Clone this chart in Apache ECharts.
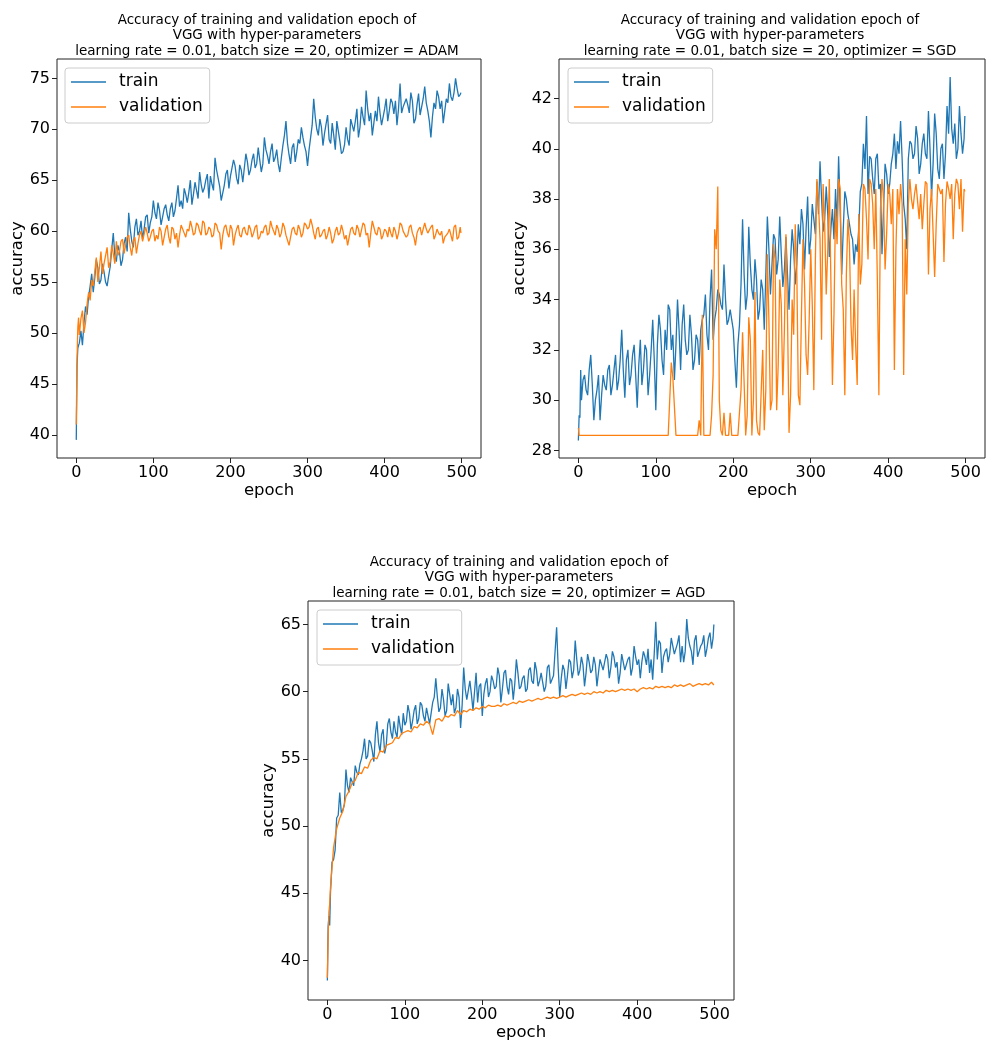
<!DOCTYPE html>
<html>
<head>
<meta charset="utf-8">
<script src="https://cdn.jsdelivr.net/npm/echarts@6/dist/echarts.min.js"></script>
<style>
html,body{margin:0;padding:0;background:#fff;}
#chart{width:987px;height:1042px;}
</style>
</head>
<body>
<div id="chart"></div>
<script>
// ---------- epochs ----------
// dense sampling: 0,1,2,3 then every 2nd epoch, then 499
const epochsDense = [0, 1, 2, 3];
for (let e = 4; e <= 498; e += 2) epochsDense.push(e);
epochsDense.push(499);
// coarse sampling for the smooth AGD validation curve: 0,1,2,3 then every 4th epoch, then 499
const epochsCoarse = [0, 1, 2, 3];
for (let e = 4; e <= 496; e += 4) epochsCoarse.push(e);
epochsCoarse.push(499);

const xTicks = [0, 100, 200, 300, 400, 500];
const adamYTicks = [40, 45, 50, 55, 60, 65, 70, 75];
const sgdYTicks = [28, 30, 32, 34, 36, 38, 40, 42];
const agdYTicks = [40, 45, 50, 55, 60, 65];

const titles = [
  'Accuracy of training and validation epoch of\nVGG with hyper-parameters\nlearning rate = 0.01, batch size = 20, optimizer = ADAM',
  'Accuracy of training and validation epoch of\nVGG with hyper-parameters\nlearning rate = 0.01, batch size = 20, optimizer = SGD',
  'Accuracy of training and validation epoch of\nVGG with hyper-parameters\nlearning rate = 0.01, batch size = 20, optimizer = AGD'
];
const seriesNames = ['train', 'validation'];

// ---------- ADAM ----------
const adamTrain = [
  39.5, 46.8, 48.5, 48.8,
  49.0, 50.2, 48.8, 51.0, 52.6, 51.8, 53.6, 54.6, 55.8, 54.0, 55.4, 57.2, 56.4, 54.8, 55.2, 56.8, 56.0, 55.0, 54.6, 55.6, 56.5, 58.2, 59.8, 57.6, 57.0, 58.6, 58.0, 56.6, 57.2, 58.8, 59.4, 58.0, 61.8, 60.2, 59.0, 58.4, 60.4, 61.2, 59.6, 60.0, 61.0, 59.2, 60.2, 61.4, 61.6, 59.8, 60.8, 61.4, 63.0,
  61.8, 61.2, 62.8, 62.0, 60.6, 61.4, 62.2, 62.6, 61.6, 61.0, 62.2, 62.8, 61.4, 62.0, 63.2, 64.5, 62.4, 63.0, 62.2, 64.2, 63.6, 62.8, 63.8, 65.0, 62.6, 63.6, 64.8, 64.0, 63.2, 65.8, 64.6, 63.8, 64.2, 65.0, 65.6, 63.2, 65.4, 64.6, 64.0, 67.2, 66.0, 65.2, 64.4, 63.0, 62.9, 64.5, 65.6, 66.0, 64.2, 65.4,
  66.2, 67.0, 66.4, 65.2, 64.6, 66.5, 66.0, 64.8, 66.2, 67.6, 66.8, 65.5, 66.0, 67.0, 67.6, 66.2, 66.6, 68.2, 67.0, 65.8, 66.6, 69.2, 68.0, 67.4, 66.6, 67.8, 68.6, 66.8, 67.2, 68.0, 66.6, 65.8, 67.2, 68.4, 69.4, 70.8, 68.6, 67.5, 66.6, 68.2, 68.6, 66.8, 67.8, 69.0, 68.6, 70.2, 69.2, 68.4, 67.8, 66.4,
  68.0, 69.2, 70.4, 73.0, 71.2, 70.0, 69.4, 71.0, 70.2, 68.4, 69.6, 70.5, 71.4, 69.0, 68.6, 70.6, 69.4, 68.0, 70.8, 69.8, 68.8, 67.6, 67.8, 68.5, 70.2, 69.0, 68.4, 71.0, 70.4, 69.8, 70.8, 72.0, 69.2, 70.2, 72.2, 71.2, 70.4, 73.8, 72.0, 70.8, 71.6, 69.4, 70.6, 71.8, 70.8, 73.2, 71.6, 70.4, 71.2, 72.0,
  73.0, 70.8, 71.8, 73.0, 72.6, 71.5, 72.8, 70.4, 72.0, 74.5, 71.6, 72.2, 72.6, 73.0, 72.4, 71.6, 73.6, 72.8, 70.6, 71.0, 72.4, 73.5, 71.4, 72.2, 73.0, 74.2, 72.6, 71.8, 70.8, 69.2, 71.2, 72.6, 72.0, 73.8, 73.2, 72.0, 72.8, 70.6, 71.8, 73.0, 72.6, 74.5, 73.2, 72.8, 73.6, 75.0, 74.0, 73.2, 73.4,
  73.6
];
const adamVal = [
  41.0, 47.5, 50.5, 51.5,
  49.8, 51.4, 52.2, 50.0, 51.0, 52.8, 54.0, 53.2, 55.2, 54.6, 56.0, 57.4, 55.0, 56.4, 58.0, 55.8, 56.8, 57.6, 58.4, 56.4, 57.0, 58.6, 57.8, 56.8, 59.0, 57.6, 58.0, 59.0, 59.2, 57.8, 58.6, 59.4, 59.6, 58.4, 57.6, 59.0, 59.4, 57.8, 58.8, 59.6, 60.0, 59.0, 59.0, 60.4, 59.8, 59.0, 59.4, 60.0, 60.2,
  59.0, 59.6, 59.2, 60.4, 60.0, 58.6, 59.4, 60.2, 60.6, 59.4, 58.8, 60.4, 60.2, 59.2, 59.8, 58.4, 59.6, 60.6, 60.6, 59.8, 59.4, 60.2, 60.0, 61.0, 60.4, 59.6, 59.8, 60.8, 60.6, 60.0, 59.6, 61.0, 60.8, 59.6, 59.8, 60.4, 60.2, 59.4, 59.6, 60.8, 60.6, 60.0, 59.8, 58.2, 59.6, 60.4, 60.6, 59.8, 59.4, 60.6,
  60.2, 58.6, 59.6, 60.2, 60.6, 59.6, 59.4, 60.2, 60.4, 59.8, 59.6, 60.6, 60.2, 59.4, 59.8, 60.4, 60.6, 59.2, 59.4, 60.0, 59.8, 60.4, 60.6, 59.6, 59.8, 61.0, 60.4, 60.0, 59.6, 60.6, 60.2, 59.4, 59.8, 60.8, 60.4, 59.6, 59.6, 58.6, 59.4, 60.2, 60.4, 59.8, 59.6, 60.6, 60.2, 59.4, 59.8, 60.8, 60.6, 60.2,
  60.4, 61.2, 60.6, 59.8, 59.2, 60.2, 60.4, 59.4, 59.6, 60.0, 60.2, 59.2, 59.6, 60.4, 59.8, 58.8, 59.2, 60.0, 60.4, 59.6, 59.8, 60.6, 60.0, 59.2, 59.6, 58.6, 59.4, 60.2, 60.4, 59.8, 59.6, 60.6, 60.2, 59.4, 59.4, 60.8, 60.6, 59.6, 59.8, 58.4, 59.8, 61.0, 60.4, 59.8, 59.6, 60.4, 60.2, 59.2, 59.6, 60.2,
  60.0, 59.4, 60.4, 59.8, 59.4, 60.4, 60.0, 59.2, 59.8, 60.8, 60.6, 60.0, 60.0, 59.4, 59.6, 60.4, 60.6, 59.8, 59.4, 58.6, 59.8, 60.2, 60.4, 59.6, 59.6, 60.8, 60.2, 59.8, 59.8, 60.4, 60.6, 59.2, 59.6, 60.2, 59.8, 59.6, 60.0, 58.8, 59.4, 59.6, 59.8, 60.2, 59.6, 59.0, 60.4, 60.6, 59.2, 59.4, 60.4,
  59.8
];

// ---------- SGD ----------
const sgdTrain = [
  28.4, 29.4, 29.3, 31.2,
  30.0, 30.8, 31.0, 30.4, 30.2, 31.2, 31.8, 30.6, 29.2, 30.0, 30.4, 31.0, 29.2, 30.2, 31.0, 30.6, 30.4, 31.2, 31.4, 30.2, 30.6, 31.2, 31.8, 30.4, 30.8, 31.6, 32.8, 31.2, 30.1, 31.6, 32.0, 30.6, 31.0, 31.8, 32.2, 31.0, 29.7, 31.4, 32.4, 30.6, 31.2, 32.2, 32.0, 30.2, 31.0, 32.0, 33.2, 31.6, 29.6,
  32.2, 33.4, 32.8, 31.6, 31.0, 32.8, 32.0, 33.8, 33.6, 32.0, 32.6, 30.8, 32.2, 34.0, 32.8, 31.2, 33.0, 33.8, 32.4, 31.8, 32.0, 33.4, 32.6, 31.2, 31.6, 32.6, 32.4, 31.4, 32.8, 33.2, 33.4, 34.2, 32.6, 32.0, 34.0, 35.2, 32.4, 33.2, 33.6, 34.4, 34.2, 33.8, 33.6, 35.4, 34.0, 33.0, 33.2, 33.6, 33.6, 32.8,
  31.6, 30.5, 32.2, 33.0, 34.6, 37.2, 35.0, 33.6, 34.2, 36.9, 35.4, 34.4, 34.0, 35.6, 34.8, 33.2, 33.6, 34.8, 34.4, 32.8, 35.0, 37.3, 36.0, 34.2, 34.2, 36.6, 36.4, 35.0, 35.6, 37.3, 35.8, 34.5, 35.2, 36.5, 35.0, 33.6, 35.6, 36.8, 36.0, 34.6, 35.4, 37.0, 36.2, 37.6, 37.0, 35.2, 36.8, 38.1, 35.8, 36.4,
  37.8, 37.2, 36.6, 38.7, 37.4, 39.5, 38.0, 36.7, 37.2, 38.5, 37.4, 35.7, 36.8, 37.6, 36.4, 38.4, 37.0, 39.7, 37.6, 35.0, 36.8, 38.3, 38.0, 37.4, 37.0, 36.6, 36.4, 35.4, 36.2, 35.9, 36.8, 38.3, 38.6, 40.2, 39.2, 41.3, 38.2, 39.7, 39.6, 38.8, 38.2, 39.6, 39.8, 38.4, 38.6, 35.8, 37.6, 39.4, 39.0, 38.2,
  38.6, 39.4, 39.8, 40.6, 39.2, 40.3, 39.8, 41.1, 39.6, 37.8, 37.2, 36.0, 39.6, 40.3, 40.2, 39.6, 39.8, 40.9, 40.4, 39.0, 39.4, 40.2, 40.6, 39.8, 39.6, 41.5, 40.0, 38.1, 39.4, 41.4, 40.6, 39.2, 38.8, 40.0, 40.2, 38.8, 39.8, 41.7, 40.6, 42.85, 40.8, 40.2, 41.0, 39.6, 40.0, 41.7, 40.6, 39.8, 40.4,
  41.3
];
const sgdVal = [
  28.9, 28.6, 28.6, 28.6,
  // epochs 4..100 (49 values)
  28.6, 28.6, 28.6, 28.6, 28.6, 28.6, 28.6,
  28.6, 28.6, 28.6, 28.6, 28.6, 28.6, 28.6,
  28.6, 28.6, 28.6, 28.6, 28.6, 28.6, 28.6,
  28.6, 28.6, 28.6, 28.6, 28.6, 28.6, 28.6,
  28.6, 28.6, 28.6, 28.6, 28.6, 28.6, 28.6,
  28.6, 28.6, 28.6, 28.6, 28.6, 28.6, 28.6,
  28.6, 28.6, 28.6, 28.6, 28.6, 28.6, 28.6,
  // epochs 102..200
  28.6, 28.6, 28.6, 28.6, 28.6, 28.6, 28.6, 28.6, 28.6, 31.5, 30.9, 30.9, 28.6, 28.6, 28.6, 28.6, 28.6, 28.6, 28.6, 28.6, 28.6, 28.6, 28.6, 28.6, 28.6, 28.6, 28.6, 29.2, 28.6, 33.4, 28.6, 28.6, 28.6, 28.6, 28.6, 29.4, 31.0, 36.8, 36.0, 38.5, 30.0, 28.8, 28.6, 29.5, 28.6, 28.6, 28.6, 29.5, 28.6, 28.6,
  // epochs 202..300
  28.6, 28.6, 28.6, 28.6, 30.4, 32.7, 30.7, 28.6, 29.4, 33.3, 32.4, 28.6, 30.0, 34.3, 29.2, 28.7, 28.6, 28.6, 32.0, 28.8, 30.4, 35.8, 33.2, 29.6, 30.0, 36.2, 35.6, 29.6, 31.4, 34.8, 33.8, 30.2, 32.8, 36.6, 33.4, 28.7, 30.2, 34.0, 32.6, 37.0, 35.2, 30.2, 29.8, 33.4, 36.4, 34.6, 31.8, 31.0, 33.2, 36.0,
  // epochs 302..400
  33.8, 30.4, 35.6, 38.8, 37.8, 36.4, 32.4, 38.6, 37.0, 34.2, 36.0, 38.8, 34.8, 30.6, 33.4, 37.6, 36.2, 38.8, 38.4, 34.6, 33.6, 30.2, 35.0, 37.2, 36.2, 33.0, 31.6, 34.4, 32.2, 30.6, 37.4, 34.6, 35.4, 38.6, 38.4, 37.2, 35.6, 38.8, 38.6, 37.8, 36.0, 38.4, 34.8, 30.2, 37.6, 38.8, 38.0, 35.2, 36.6, 38.6,
  // epochs 402..498
  38.2, 37.0, 38.4, 31.2, 36.0, 38.4, 37.4, 38.6, 37.8, 31.0, 36.4, 34.2, 37.8, 38.8, 38.0, 37.6, 38.2, 38.6, 38.6, 37.2, 38.2, 36.8, 37.8, 38.7, 38.6, 35.0, 37.6, 38.4, 38.4, 34.9, 37.0, 38.6, 38.6, 38.2, 38.4, 35.5, 37.8, 38.7, 38.4, 38.0, 38.6, 36.4, 38.2, 38.8, 38.6, 37.6, 38.8, 36.7, 38.4,
  38.3
];

// ---------- AGD ----------
const agdTrain = [
  38.5, 42.5, 43.3, 42.6,
  45.0, 47.3, 47.5, 48.2, 50.6, 50.8, 52.5, 51.0, 51.2, 51.6, 54.2, 53.0, 52.5, 53.6, 53.5, 53.0, 54.5, 54.0, 53.8, 54.6, 55.0, 55.6, 56.5, 55.0, 55.2, 56.4, 56.2, 55.6, 54.8, 56.8, 57.8, 56.2, 55.5, 56.8, 57.2, 55.4, 56.0, 57.6, 58.0, 57.0, 56.5, 57.8, 57.0, 56.6, 58.2, 57.4, 56.8, 58.4, 57.5,
  57.8, 59.0, 58.4, 57.2, 57.8, 58.6, 59.0, 57.6, 58.0, 59.2, 59.0, 58.2, 57.8, 58.8, 58.8, 57.6, 58.4, 59.2, 59.6, 61.0, 59.6, 58.5, 58.8, 60.2, 59.4, 58.2, 58.6, 60.6, 59.8, 59.0, 59.8, 58.4, 58.8, 60.2, 59.6, 57.3, 59.0, 61.8, 60.2, 59.4, 59.4, 60.8, 59.8, 58.6, 60.0, 61.4, 59.2, 60.4, 60.6, 58.2,
  59.8, 60.6, 61.0, 59.6, 60.0, 61.2, 60.8, 60.2, 60.4, 61.8, 61.2, 59.2, 60.2, 61.4, 61.6, 60.4, 59.8, 61.0, 60.8, 59.4, 60.6, 62.4, 61.4, 60.2, 60.4, 61.0, 61.2, 60.0, 60.2, 61.6, 61.8, 60.8, 60.6, 62.2, 61.6, 60.4, 60.8, 61.4, 61.4, 60.0, 60.4, 61.8, 62.0, 60.6, 60.6, 61.2, 61.2, 64.8, 61.8, 59.6,
  61.0, 62.0, 61.6, 60.2, 61.2, 62.4, 62.2, 61.0, 61.6, 63.8, 62.4, 61.2, 61.6, 62.6, 62.0, 60.4, 61.4, 62.8, 62.2, 61.4, 61.6, 62.6, 62.0, 60.4, 61.4, 62.4, 62.4, 61.6, 61.6, 62.8, 62.4, 61.0, 61.8, 63.0, 62.6, 61.8, 62.2, 60.6, 61.4, 62.8, 62.8, 61.6, 61.6, 62.4, 62.6, 61.2, 61.8, 63.4, 62.6, 62.0,
  62.4, 61.0, 62.2, 63.0, 62.6, 62.0, 63.2, 61.4, 62.4, 60.9, 62.8, 65.2, 62.4, 63.8, 63.6, 61.4, 62.6, 63.0, 63.2, 62.2, 62.8, 64.0, 63.4, 62.8, 62.8, 63.6, 64.2, 62.2, 63.4, 62.2, 63.0, 65.4, 64.0, 63.4, 63.0, 62.0, 63.8, 64.2, 62.6, 63.0, 63.4, 63.6, 64.2, 62.6, 63.2, 64.0, 64.4, 63.2, 64.0,
  65.0
];
const agdVal = [
  38.7, 41.8, 43.6, 44.2,
  45.4, 48.4, 49.8, 50.6, 51.1, 52.2, 52.6, 53.2, 53.4, 54.0, 53.9, 54.4, 54.3, 54.9, 55.1, 55.0, 55.6, 55.5, 56.0, 56.1, 56.2, 56.6, 56.5, 56.9, 57.0,
  57.1, 57.0, 57.4, 57.3, 57.6, 57.5, 57.8, 57.6, 56.8, 57.9, 58.0, 57.8, 58.2, 58.1, 58.3, 58.2, 58.6, 58.3, 58.6, 58.5, 58.7, 58.6, 58.8, 58.7, 58.9,
  58.8, 59.0, 58.9, 58.9, 59.0, 58.9, 59.1, 59.0, 59.1, 59.2, 59.1, 59.3, 59.2, 59.3, 59.4, 59.3, 59.4, 59.5, 59.4, 59.5, 59.6, 59.5, 59.6, 59.5, 59.6,
  59.7, 59.6, 59.7, 59.8, 59.7, 59.8, 59.9, 59.8, 59.9, 59.8, 60.0, 59.9, 60.0, 59.9, 60.1, 60.0, 60.1, 60.0, 60.1, 60.2, 60.1, 60.2, 60.1, 60.2, 60.0,
  60.2, 60.3, 60.2, 60.3, 60.2, 60.4, 60.3, 60.4, 60.3, 60.4, 60.3, 60.5, 60.4, 60.5, 60.4, 60.5, 60.6, 60.4, 60.5, 60.6, 60.5, 60.6, 60.5, 60.7,
  60.5
];

// ---------- layout ----------
const FONT = 'DejaVu Sans';
const BLUE = '#1f77b4', ORANGE = '#ff7f0e';
const panels = [
  {left: 57, top: 59, width: 424, height: 399, ymin: 37.72, ymax: 76.9, yticks: adamYTicks,
   train: adamTrain, trainX: epochsDense, val: adamVal, valX: epochsDense, legendLeft: 65, legendTop: 68, titleTop: 12.5},
  {left: 559, top: 59, width: 426, height: 399, ymin: 27.7, ymax: 43.57, yticks: sgdYTicks,
   train: sgdTrain, trainX: epochsDense, val: sgdVal, valX: epochsDense, legendLeft: 568, legendTop: 68, titleTop: 12.5},
  {left: 308, top: 601, width: 426, height: 399, ymin: 37.05, ymax: 66.75, yticks: agdYTicks,
   train: agdTrain, trainX: epochsDense, val: agdVal, valX: epochsCoarse, legendLeft: 317, legendTop: 610, titleTop: 554.5}
];

function pairs(xs, vals) {
  const n = Math.min(xs.length, vals.length);
  const out = [];
  for (let i = 0; i < n; i++) out.push([xs[i], vals[i]]);
  return out;
}

const option = {
  animation: false,
  backgroundColor: '#ffffff',
  title: [], grid: [], xAxis: [], yAxis: [], legend: [], series: []
};

panels.forEach((p, i) => {
  option.title.push({
    text: titles[i],
    left: p.left + p.width / 2 - 2,
    top: p.titleTop,
    textAlign: 'center',
    padding: 0,
    textStyle: {fontFamily: FONT, fontSize: 13.5, fontWeight: 'normal', color: '#000', lineHeight: 15.5}
  });
  option.grid.push({
    left: p.left, top: p.top, width: p.width, height: p.height,
    show: true, borderColor: '#222', borderWidth: 1, backgroundColor: 'transparent'
  });
  option.xAxis.push({
    type: 'value', gridIndex: i, min: -25, max: 525, position: 'bottom',
    name: 'epoch', nameLocation: 'middle', nameGap: 24,
    nameTextStyle: {fontFamily: FONT, fontSize: 16.5, color: '#000'},
    axisLine: {show: false, onZero: false},
    axisTick: {show: true, length: 5, customValues: xTicks, lineStyle: {color: '#222', width: 1}},
    axisLabel: {show: true, margin: 7, customValues: xTicks, fontFamily: FONT, fontSize: 16, color: '#000'},
    splitLine: {show: false}
  });
  option.yAxis.push({
    type: 'value', gridIndex: i, min: p.ymin, max: p.ymax, position: 'left',
    name: 'accuracy', nameLocation: 'middle', nameGap: 29, nameRotate: 90,
    nameTextStyle: {fontFamily: FONT, fontSize: 16.5, color: '#000'},
    axisLine: {show: false, onZero: false},
    axisTick: {show: true, length: 5, customValues: p.yticks, lineStyle: {color: '#222', width: 1}},
    axisLabel: {show: true, margin: 7, customValues: p.yticks, fontFamily: FONT, fontSize: 16, color: '#000'},
    splitLine: {show: false}
  });
  option.legend.push({
    left: p.legendLeft, top: p.legendTop,
    orient: 'vertical',
    data: seriesNames,
    icon: 'rect',
    itemWidth: 35, itemHeight: 1.5, itemGap: 5,
    padding: [4, 7, 6, 6],
    borderColor: '#cccccc', borderWidth: 1, borderRadius: 3,
    backgroundColor: 'rgba(255,255,255,0.8)',
    selectedMode: false,
    textStyle: {fontFamily: FONT, fontSize: 17, color: '#000', lineHeight: 20, padding: [0, 0, 0, 8]}
  });
  option.series.push({
    name: seriesNames[0], type: 'line', xAxisIndex: i, yAxisIndex: i,
    data: pairs(p.trainX, p.train), symbol: 'none', showSymbol: false, color: BLUE,
    lineStyle: {color: BLUE, width: 1.3}, z: 2
  });
  option.series.push({
    name: seriesNames[1], type: 'line', xAxisIndex: i, yAxisIndex: i,
    data: pairs(p.valX, p.val), symbol: 'none', showSymbol: false, color: ORANGE,
    lineStyle: {color: ORANGE, width: 1.3}, z: 3
  });
});

const chart = echarts.init(document.getElementById('chart'), null, {renderer: 'canvas'});
chart.setOption(option);
</script>
</body>
</html>
